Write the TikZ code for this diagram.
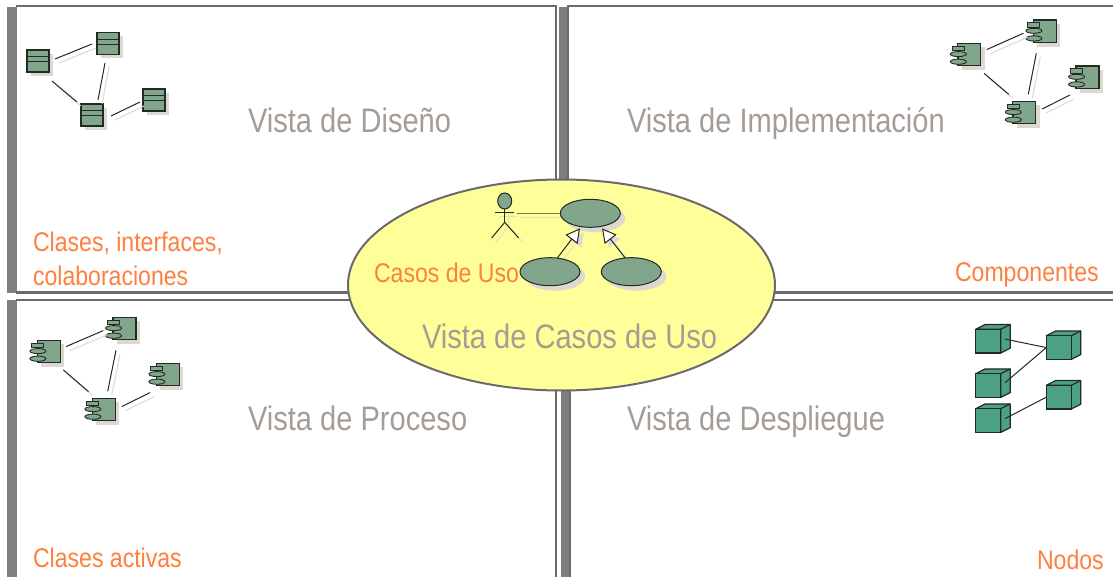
\documentclass[tikz,border=0pt]{standalone}
\usepackage{fontspec}
\setmainfont[FakeStretch=0.855]{Liberation Sans}
\usetikzlibrary{arrows.meta,shapes.geometric}
\definecolor{barc}{HTML}{7F7F7F}
\definecolor{framec}{HTML}{6A6A6A}
\definecolor{umlg}{HTML}{82A68C}
\definecolor{cubeg}{HTML}{4BA085}
\definecolor{shad}{HTML}{DDD8D2}
\definecolor{yel}{HTML}{FFFF99}
\definecolor{yshad}{HTML}{E6E2C0}
\definecolor{greytxt}{HTML}{A59C95}
\definecolor{orangetxt}{HTML}{FF7F3F}
\definecolor{edge}{HTML}{222A24}
\tikzset{
  x=1pt,y=-1pt,
  bar/.style={fill=barc,draw=none},
  frameline/.style={draw=framec,line width=2pt},
  classbox/.style={draw=edge,fill=umlg,line width=1.1pt,minimum width=22pt,minimum height=22pt,inner sep=0,outer sep=0},
  compbox/.style={draw=edge,fill=umlg,line width=1.1pt,minimum width=23pt,minimum height=22.6pt,inner sep=0,outer sep=0},
  cubebox/.style={draw=edge,fill=cubeg,line width=1.2pt,minimum width=25pt,minimum height=23.7pt,inner sep=0,outer sep=0},
  usecase/.style={ellipse,draw=edge,fill=umlg,line width=1pt,minimum width=60pt,minimum height=28pt,inner sep=0,outer sep=0},
  link/.style={draw=edge,line width=1pt},
  linkshadow/.style={draw=shad,line width=1pt},
  viewname/.style={text=greytxt,font=\fontsize{34}{34}\selectfont,anchor=base west,inner sep=0,outer sep=0},
  tag/.style={text=orangetxt,font=\fontsize{27}{27}\selectfont,anchor=base west,inner sep=0,outer sep=0},
}
% connector with a pale offset copy
\newcommand{\conn}[6]{%
  \draw[linkshadow] ([shift={(#2+4,#3+4)}]#1.center) -- ([shift={(#5+4,#6+4)}]#4.center);
  \draw[link] ([shift={(#2,#3)}]#1.center) -- ([shift={(#5,#6)}]#4.center);}
% class icon: name, left, top
\newcommand{\classicon}[3]{%
  \fill[shad] (#2+4,#3+4) rectangle ++(22.3,22);
  \node[classbox,anchor=north west] (#1) at (#2,#3) {};
  \draw[edge,line width=1pt] (#2,#3+7) -- ++(22,0) (#2,#3+12) -- ++(22,0);}
% component icon
\newcommand{\compicon}[3]{%
  \fill[shad] (#2+4,#3+4) rectangle ++(23,22.6);
  \node[compbox,anchor=north west] (#1) at (#2,#3) {};
  \draw[edge,line width=.9pt] (#2+.6,#3+6) -- ++(0,17);
  \draw[edge,fill=umlg,line width=.9pt] (#2-5.4,#3+2.7) rectangle ++(12,4.4);
  \draw[edge,fill=umlg,line width=.9pt] (#2+.6,#3+10.8) ellipse [x radius=8,y radius=2.5];
  \draw[edge,fill=umlg,line width=.9pt] (#2+.6,#3+18.4) ellipse [x radius=8,y radius=2.6];}
% cube icon
\newcommand{\cubeicon}[3]{%
  \draw[edge,fill=cubeg,line width=1.2pt,line join=round] (#2,#3) -- ++(9.5,-4.8) -- ++(25,0) -- ++(0,23.7) -- ++(-9.5,4.8) -- ++(0,-23.7) -- cycle;
  \node[cubebox,anchor=north west] (#1) at (#2,#3) {};
  \draw[edge,line width=1.2pt] (#2+25,#3) -- ++(9.5,-4.8);}
\begin{document}
\begin{tikzpicture}
\useasboundingbox (0,0) rectangle (1113,577);
\fill[white] (0,0) rectangle (1113,577);
% panels
\fill[bar] (7,7) rectangle (17,293);
\fill[bar] (7,300) rectangle (17,577);
\fill[bar] (559,7) rectangle (568,293);
\fill[bar] (561,300) rectangle (570,577);
\draw[frameline] (16,6) -- (556,6) -- (556,292);
\draw[frameline] (567,6) -- (1113,6);
\draw[frameline] (568,6) -- (568,293);
\draw[frameline] (570,300) -- (570,577);
\draw[draw=framec,line width=3.6pt] (16,292.6) -- (560,292.6);
\draw[draw=framec,line width=3.6pt] (760,292.6) -- (1113,292.6);
\draw[frameline] (16,300) -- (400,300);
\draw[frameline] (556,380) -- (556,577);
\draw[frameline] (760,300) -- (1113,300);
% class icons
\classicon{ca}{27}{50}
\classicon{cb}{97}{32.5}
\classicon{cc}{81}{104}
\classicon{cd}{143}{89}
\conn{ca}{17}{-2}{cb}{-16}{0.5}
\conn{ca}{14}{20}{cc}{-15}{-13}
\conn{cb}{-3}{19.5}{cc}{6}{-15}
\conn{cc}{19}{1}{cd}{-14}{2}
% components, top right
\compicon{ia}{957.7}{43.3}
\compicon{ib}{1033.3}{20}
\compicon{ic}{1076}{66}
\compicon{id}{1012.7}{101.3}
\conn{ia}{17.5}{-5}{ib}{-21.5}{2}
\conn{ia}{14.8}{18.7}{id}{-15.5}{-18.3}
\conn{ib}{-8.5}{22}{id}{4.1}{-18.3}
\conn{id}{18}{-3.6}{ic}{-17.5}{17.7}
% components, lower left
\compicon{pa}{37.3}{340.3}
\compicon{pb}{113}{317.3}
\compicon{pc}{156.3}{363.3}
\compicon{pd}{92.3}{398.3}
\conn{pa}{17.2}{-5}{pb}{-21.2}{2}
\conn{pa}{14.5}{18.3}{pd}{-15.3}{-18}
\conn{pb}{-8.5}{21.7}{pd}{3.9}{-18.3}
\conn{pd}{18}{-3}{pc}{-17.8}{18}
% nodes
\cubeicon{na}{975.7}{329.3}
\cubeicon{nb}{1046.3}{335.7}
\cubeicon{nc}{975.7}{373.7}
\cubeicon{nd}{975.7}{408.7}
\cubeicon{ne}{1046.3}{385.3}
\draw[link] ([shift={(17,-2)}]na.center) -- (nb.west);
\draw[link] ([shift={(17,-3)}]nc.center) -- (nb.west);
\draw[link] ([shift={(17,-2)}]nd.center) -- (ne.west);
% central ellipse
\draw[fill=yel,draw=framec,line width=2pt] (561.5,285) ellipse [x radius=213.5,y radius=105.5];
% use-case part
\fill[shad] (595.3,218.3) ellipse [x radius=30,y radius=14];
\fill[shad] (555,276.7) ellipse [x radius=30,y radius=14];
\fill[shad] (636.3,276.7) ellipse [x radius=30,y radius=14];
\draw[yshad,line width=1pt] (508.7,213) -- (508.7,226.3) (499.3,216.7) -- (517.7,216.7) (495.7,242) -- (508.7,226.3) -- (522.7,242) (520.7,217.3) -- (564,217.3);
\draw[yshad,line width=1pt,-{Triangle[length=14pt,width=15pt,fill=shad]}] (561.3,262) -- (584,232.3);
\draw[yshad,line width=1pt,-{Triangle[length=14pt,width=15pt,fill=shad]}] (629,261.7) -- (606,232.3);
\node[usecase] (ua) at (590.3,213.3) {};
\node[usecase] (ub) at (550,271.7) {};
\node[usecase] (uc) at (631.3,271.7) {};
\node[ellipse,draw=edge,fill=umlg,line width=1pt,minimum width=14pt,minimum height=16pt,inner sep=0,outer sep=0] (act) at (504.7,201) {};
\draw[edge,line width=1pt] (act.south) -- (504.7,222.3) coordinate (hip);
\draw[edge,line width=1pt] (495.3,212.7) -- (513.7,212.7);
\draw[edge,line width=1pt] (491.7,238) -- (hip) -- (518.7,238);
\draw[draw=edge!60!yel,line width=1.3pt] ([shift={(12,12.3)}]act.center) -- (ua.west);
\draw[link,-{Triangle[open,fill=white,length=14pt,width=15pt]}] ([shift={(7.3,-13.7)}]ub.center) -- ([shift={(-10.3,15)}]ua.center);
\draw[link,-{Triangle[open,fill=white,length=14pt,width=15pt]}] ([shift={(-6.3,-14)}]uc.center) -- ([shift={(11.7,15)}]ua.center);
% texts
\node[viewname] (t1) at (248,133) {Vista de Diseño};
\node[viewname] (t2) at (627,133) {Vista de Implementación};
\node[viewname] (t3) at (248,430) {Vista de Proceso};
\node[viewname] (t4) at (627,430) {Vista de Despliegue};
\node[viewname] (t5) at (422,348) {Vista de Casos de Uso};
\node[tag] (o1) at (33,252) {Clases, interfaces,};
\node[tag] (o2) at (33,285) {colaboraciones};
\node[tag] (o3) at (374,283) {Casos de Uso};
\node[tag] (o4) at (955,281) {Componentes};
\node[tag] (o5) at (33,567) {Clases activas};
\node[tag] (o6) at (1037,569) {Nodos};
\end{tikzpicture}
\end{document}
